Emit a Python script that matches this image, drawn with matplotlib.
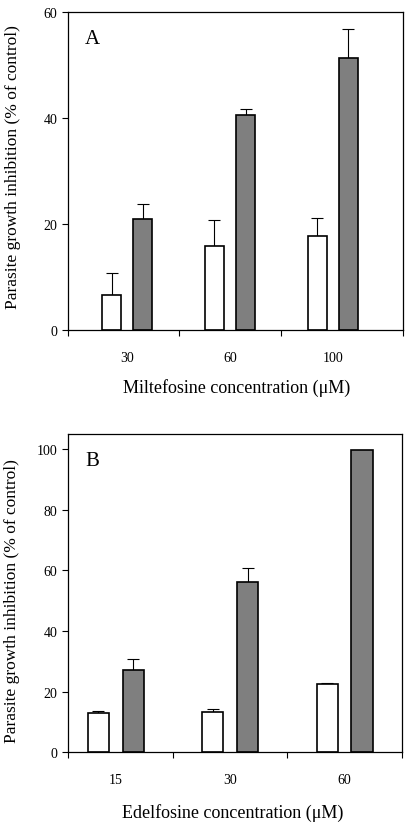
import numpy as np
import matplotlib
matplotlib.use("Agg")
import matplotlib.pyplot as plt

plt.rcParams['font.family'] = ['Liberation Serif', 'DejaVu Serif']

# Panel A - miltefosine
milte_conc = ["30", "60", "100"]
milte_white = [6.7, 15.8, 17.7]
milte_white_err = [4.0, 5.0, 3.5]
milte_gray = [21.0, 40.6, 51.4]
milte_gray_err = [2.8, 1.2, 5.4]

# Panel B - edelfosine
edel_conc = ["15", "30", "60"]
edel_white = [12.9, 13.2, 22.4]
edel_white_err = [0.8, 1.0, 0.6]
edel_gray = [27.2, 56.3, 99.6]
edel_gray_err = [3.6, 4.4, 0.0]

ylabel = "Parasite growth inhibition (% of control)"
BAR_W = 0.185
OFF = 0.152
GRAY = "#7f7f7f"


def draw_panel(ax, cats, white, white_err, gray, gray_err, letter, xlabel,
               xlim, ylim, yticks, xlab_pos, ylab_pos):
    x = np.arange(len(cats))
    ax.bar(x - OFF, white, BAR_W, color="white", edgecolor="black", linewidth=1.2, zorder=2)
    ax.bar(x + OFF, gray, BAR_W, color=GRAY, edgecolor="black", linewidth=1.2, zorder=2)
    ax.errorbar(x - OFF, white, yerr=[np.zeros(len(x)), white_err], fmt="none",
                ecolor="black", elinewidth=0.8, capsize=4, capthick=0.8, zorder=1)
    ge = np.array(gray_err)
    m = ge > 0
    ax.errorbar((x + OFF)[m], np.array(gray)[m], yerr=[np.zeros(m.sum()), ge[m]], fmt="none",
                ecolor="black", elinewidth=0.8, capsize=4, capthick=0.8, zorder=1)

    ax.set_xlim(*xlim)
    ax.set_ylim(*ylim)
    ax.set_yticks(yticks)
    ax.set_xticks(x)
    ax.set_xticklabels(cats)
    ax.set_xticks([xlim[0], 0.5, 1.5, xlim[1]], minor=True)
    ax.tick_params(axis="x", which="major", length=0, pad=15, labelsize=10)
    ax.tick_params(axis="x", which="minor", direction="out", length=4, width=0.8)
    ax.tick_params(axis="y", direction="out", length=4.5, width=0.8, pad=3, labelsize=10)
    for s in ax.spines.values():
        s.set_linewidth(0.9)

    ax.set_xlabel(xlabel, fontsize=13, va="center")
    ax.xaxis.set_label_coords(*xlab_pos)
    ax.set_ylabel(ylabel, fontsize=12.5, va="center")
    ax.yaxis.set_label_coords(*ylab_pos)
    ax.text(0.075, 0.918, letter, transform=ax.transAxes, fontsize=15,
            ha="center", va="center")


fig = plt.figure(figsize=(4.16, 8.28), dpi=100)
axA = fig.add_axes([0.1627, 0.6002, 0.805, 0.3837])
axB = fig.add_axes([0.1627, 0.0902, 0.803, 0.3844])

draw_panel(axA, milte_conc, milte_white, milte_white_err, milte_gray, milte_gray_err,
           "A", "Miltefosine concentration (\u03bcM)",
           (-0.58, 2.68), (0, 60), [0, 20, 40, 60], (0.504, -0.179), (-0.162, 0.515))
draw_panel(axB, edel_conc, edel_white, edel_white_err, edel_gray, edel_gray_err,
           "B", "Edelfosine concentration (\u03bcM)",
           (-0.42, 2.5), (0, 105), [0, 20, 40, 60, 80, 100], (0.494, -0.1875), (-0.168, 0.479))

fig.savefig("out.png", dpi=100)
